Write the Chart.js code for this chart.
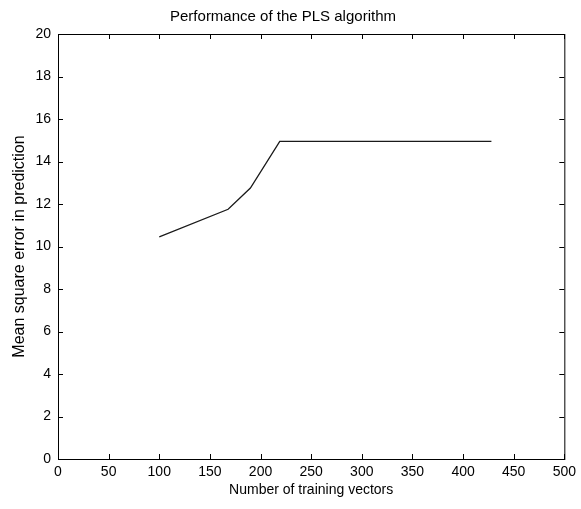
<!DOCTYPE html>
<html>
<head>
<meta charset="utf-8">
<script src="https://cdn.jsdelivr.net/npm/chart.js@4"></script>
<style>
  html, body { margin: 0; padding: 0; background: #fff; }
  #wrap { width: 581px; height: 509px; }
</style>
</head>
<body>
<div id="wrap"><canvas id="chart"></canvas></div>
<script>
const trainingVectors = [100, 168, 190, 219, 428];
const meanSqError = [10.45, 11.75, 12.75, 14.95, 14.95];
const xTicks = [0, 50, 100, 150, 200, 250, 300, 350, 400, 450, 500];
const yTicks = [0, 2, 4, 6, 8, 10, 12, 14, 16, 18, 20];

const FONT = '"Liberation Sans", Arial, sans-serif';

// matlab style box with inward ticks on all four sides
const boxTicks = {
    id: 'boxTicks',
    afterDraw(chart) {
        const { ctx, chartArea: a, scales } = chart;
        const len = 5;
        ctx.save();
        ctx.strokeStyle = '#000';
        ctx.lineWidth = 1;
        ctx.strokeRect(a.left + 0.5, a.top + 0.5, a.right - a.left, a.bottom - a.top);
        ctx.beginPath();
        xTicks.forEach(v => {
            const px = Math.round(scales.x.getPixelForValue(v)) + 0.5;
            ctx.moveTo(px, a.bottom); ctx.lineTo(px, a.bottom - len);
            ctx.moveTo(px, a.top); ctx.lineTo(px, a.top + len);
        });
        yTicks.forEach(v => {
            const py = Math.round(scales.y.getPixelForValue(v)) + 0.5;
            ctx.moveTo(a.left, py); ctx.lineTo(a.left + len, py);
            ctx.moveTo(a.right, py); ctx.lineTo(a.right - len, py);
        });
        ctx.stroke();
        ctx.restore();
    }
};

new Chart(document.getElementById('chart'), {
    type: 'line',
    data: {
        datasets: [{
            data: trainingVectors.map((x, i) => ({ x: x, y: meanSqError[i] })),
            borderColor: '#1a1a1a',
            borderWidth: 1.3,
            pointRadius: 0,
            tension: 0,
            fill: false
        }]
    },
    options: {
        responsive: true,
        maintainAspectRatio: false,
        animation: false,
        layout: { padding: { left: 0, right: 15, top: 0, bottom: 10 } },
        plugins: {
            legend: { display: false },
            tooltip: { enabled: false },
            title: {
                display: true,
                text: 'Performance of the PLS algorithm',
                color: '#000',
                font: { family: FONT, size: 15, weight: 'normal' },
                padding: { top: 8, bottom: 8 }
            }
        },
        scales: {
            x: {
                type: 'linear',
                min: 0,
                max: 500,
                afterBuildTicks: s => { s.ticks = xTicks.map(v => ({ value: v })); },
                afterFit: s => { s.height = 40; },
                grid: { display: false, drawTicks: false },
                border: { display: false },
                ticks: { color: '#000', font: { family: FONT, size: 14 }, padding: 5, maxRotation: 0 },
                title: {
                    display: true,
                    text: 'Number of training vectors',
                    color: '#000',
                    font: { family: FONT, size: 14 },
                    padding: { top: 0, bottom: 0 }
                }
            },
            y: {
                min: 0,
                max: 20,
                afterBuildTicks: s => { s.ticks = yTicks.map(v => ({ value: v })); },
                afterFit: s => { s.width = 58; },
                grid: { display: false, drawTicks: false },
                border: { display: false },
                ticks: { color: '#000', font: { family: FONT, size: 14 }, padding: 7 },
                title: {
                    display: true,
                    text: 'Mean square error in prediction',
                    color: '#000',
                    font: { family: FONT, size: 16 },
                    padding: { top: 10, bottom: 0 }
                }
            }
        }
    },
    plugins: [boxTicks]
});
</script>
</body>
</html>
